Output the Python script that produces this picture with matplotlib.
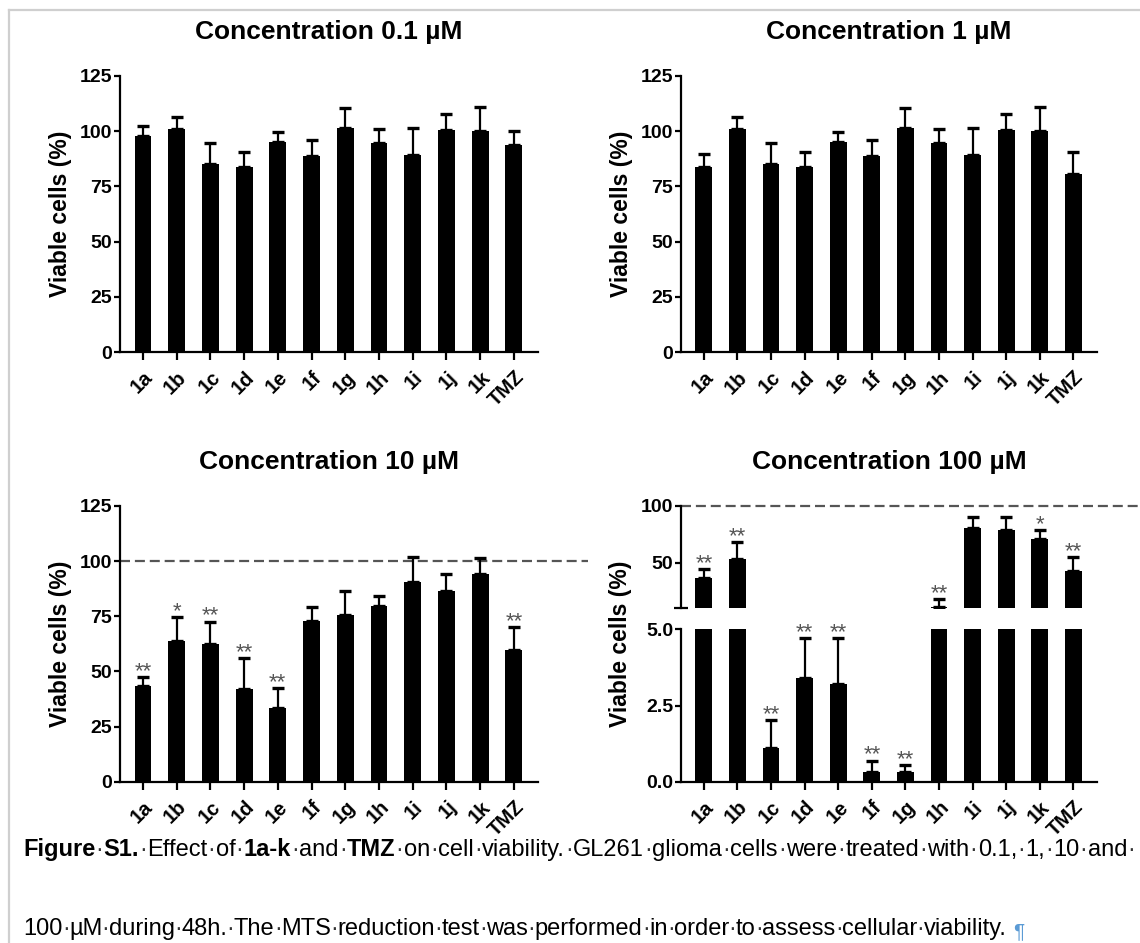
import numpy as np
import matplotlib
matplotlib.use("Agg")
import matplotlib.pyplot as plt
from matplotlib.lines import Line2D
from matplotlib import transforms

plt.rcParams['font.family'] = ['Liberation Sans', 'DejaVu Sans']

labels = ['1a', '1b', '1c', '1d', '1e', '1f', '1g', '1h', '1i', '1j', '1k', 'TMZ']

v01 = [97.8, 100.8, 85.1, 83.9, 94.9, 88.7, 101.6, 94.5, 89.2, 100.5, 100.1, 93.6]
e01 = [4.5, 5.5, 9.7, 6.6, 4.9, 7.3, 8.7, 6.3, 12.4, 7.3, 10.7, 6.6]

v1 = [83.6, 100.8, 85.1, 83.9, 94.9, 88.7, 101.6, 94.5, 89.2, 100.5, 100.1, 80.6]
e1 = [6.3, 5.5, 9.7, 6.6, 4.9, 7.3, 8.7, 6.3, 12.4, 7.3, 10.7, 10.1]

v10 = [43.4, 63.9, 62.4, 41.9, 33.3, 73.0, 75.4, 79.8, 90.7, 86.6, 94.2, 59.7]
e10 = [4.2, 10.9, 10.2, 14.0, 9.0, 6.0, 10.9, 4.5, 11.0, 7.6, 7.4, 10.3]
stars10 = ['**', '*', '**', '**', '**', '', '', '', '', '', '', '**']

v100 = [37.0, 53.5, 1.12, 3.39, 3.2, 0.33, 0.31, 11.2, 80.6, 79.1, 70.6, 42.9]
e100 = [7.4, 14.4, 0.9, 1.31, 1.5, 0.36, 0.24, 6.6, 9.7, 11.2, 8.5, 12.1]
stars100 = ['**', '**', '**', '**', '**', '**', '**', '**', '', '', '*', '**']

titles = ['Concentration 0.1 µM', 'Concentration 1 µM',
          'Concentration 10 µM', 'Concentration 100 µM']

W, H = 1140, 943
TICK_FS = 14
LAB_FS = 16.5
TITLE_FS = 19
STAR_FS = 16
CAP_FS = 17
LW = 1.6
x = np.arange(len(labels))

fig = plt.figure(figsize=(W / 100, H / 100), dpi=100)
fig.patch.set_facecolor('white')


def px_rect(x0, x1, ytop, ybot):
    return [x0 / W, 1 - ybot / H, (x1 - x0) / W, (ybot - ytop) / H]


def style_axes(ax, show_x=True):
    for s in ['top', 'right']:
        ax.spines[s].set_visible(False)
    ax.spines['left'].set_linewidth(LW)
    ax.spines['bottom'].set_linewidth(LW)
    ax.tick_params(axis='y', direction='out', length=4.5, width=LW,
                   labelsize=TICK_FS, pad=1)
    for t in ax.get_yticklabels():
        t.set_fontweight('bold')
    ax.set_xlim(-0.68, len(labels) - 0.3)
    if show_x:
        ax.set_xticks(x)
        ax.set_xticklabels(labels, rotation=45, ha='right', va='center',
                           rotation_mode='anchor', fontsize=TICK_FS + 0.5,
                           fontweight='bold')
        ax.tick_params(axis='x', direction='out', length=6, width=LW, pad=10)
        off = transforms.ScaledTranslation(5 / 72, 0, fig.dpi_scale_trans)
        for t in ax.get_xticklabels():
            t.set_transform(t.get_transform() + off)
    else:
        ax.spines['bottom'].set_visible(False)
        ax.tick_params(axis='x', bottom=False, labelbottom=False)


def draw_bars(ax, vals, errs):
    ax.bar(x, vals, width=0.5, color='black', zorder=2)
    ax.errorbar(x, vals, yerr=[np.zeros(len(vals)), errs], fmt='none',
                ecolor='black', elinewidth=LW, capsize=4, capthick=2.4,
                zorder=3)


def draw_stars(ax, vals, errs, stars, keep=None):
    for i, s in enumerate(stars):
        if not s or (keep is not None and not keep(vals[i])):
            continue
        ax.annotate(s, (x[i], vals[i] + errs[i]), xytext=(0, 0),
                    textcoords='offset points', ha='center', va='baseline',
                    fontsize=STAR_FS, color='#555555')


def dashed_100(ax):
    ax.plot([0, 1.12], [100, 100], color='#555555', lw=1.6,
            dashes=(4.5, 2.2), clip_on=False, zorder=1,
            transform=ax.get_yaxis_transform())


def set_ylabel(ax):
    ax.set_ylabel('Viable cells (%)', fontsize=LAB_FS, fontweight='bold',
                  labelpad=6)


# top row
for (vals, errs), rect, title in zip(
        [(v01, e01), (v1, e1)],
        [px_rect(120, 537.5, 76, 352), px_rect(681, 1097, 76, 352)],
        titles[:2]):
    ax = fig.add_axes(rect)
    draw_bars(ax, vals, errs)
    ax.set_ylim(0, 125)
    ax.set_yticks([0, 25, 50, 75, 100, 125])
    style_axes(ax)
    set_ylabel(ax)
    fig.text(rect[0] + rect[2] / 2, 1 - 32 / H, title, ha='center',
             va='center', fontsize=TITLE_FS, fontweight='bold')

# bottom left: 10 uM
rect = px_rect(120, 537.5, 506, 781.7)
ax = fig.add_axes(rect)
draw_bars(ax, v10, e10)
dashed_100(ax)
draw_stars(ax, v10, e10, stars10)
ax.set_ylim(0, 125)
ax.set_yticks([0, 25, 50, 75, 100, 125])
style_axes(ax)
set_ylabel(ax)
fig.text(rect[0] + rect[2] / 2, 1 - 462 / H, titles[2], ha='center',
         va='center', fontsize=TITLE_FS, fontweight='bold')

# bottom right: 100 uM with split axis
rect_b = px_rect(681, 1097, 629.3, 781.7)
rect_t = px_rect(681, 1097, 506, 608.3)
ax_b = fig.add_axes(rect_b)
ax_t = fig.add_axes(rect_t)
for a in (ax_b, ax_t):
    draw_bars(a, v100, e100)
ax_b.set_ylim(0, 5)
ax_b.set_yticks([0, 2.5, 5])
ax_b.set_yticklabels(['0.0', '2.5', '5.0'])
ax_t.set_ylim(10, 100)
ax_t.set_yticks([50, 100])
ax_t.set_yticks([10], minor=True)
style_axes(ax_b)
style_axes(ax_t, show_x=False)
ax_t.tick_params(axis='y', which='minor', direction='inout', length=10,
                 width=LW)
dashed_100(ax_t)
draw_stars(ax_b, v100, e100, stars100, keep=lambda v: v < 5)
draw_stars(ax_t, v100, e100, stars100, keep=lambda v: v > 10)
fig.text(620 / W, 1 - 644 / H, 'Viable cells (%)', rotation=90,
         ha='center', va='center', fontsize=LAB_FS, fontweight='bold')
fig.text(rect_b[0] + rect_b[2] / 2, 1 - 462 / H, titles[3], ha='center',
         va='center', fontsize=TITLE_FS, fontweight='bold')

# page frame
fig.add_artist(Line2D([9 / W, 9 / W], [0, 1 - 10 / H], transform=fig.transFigure,
                      color='#cfcfcf', lw=1.6))
fig.add_artist(Line2D([9 / W, 1], [1 - 10 / H, 1 - 10 / H],
                      transform=fig.transFigure, color='#cfcfcf', lw=1.6))

# caption
renderer = fig.canvas.get_renderer()
line1 = [('Figure', True), ('S1.', True), ('Effect', False), ('of', False),
         ('1a-k', True), ('and', False), ('TMZ', True), ('on', False),
         ('cell', False), ('viability.', False), ('GL261', False),
         ('glioma', False), ('cells', False), ('were', False),
         ('treated', False), ('with', False), ('0.1,', False), ('1,', False),
         ('10', False), ('and', False)]
line2 = [('100', False), ('µM', False), ('during', False), ('48h.', False),
         ('The', False), ('MTS', False), ('reduction', False), ('test', False),
         ('was', False), ('performed', False), ('in', False), ('order', False),
         ('to', False), ('assess', False), ('cellular', False),
         ('viability.', False)]
space_px = 0.278 * CAP_FS * 100 / 72


def caption_line(words, ybase, x0, x1=None, trail_dot=False, pilcrow=False):
    arts = []
    widths = []
    for w, b in words:
        t = fig.text(0, 1 - ybase / H, w, fontsize=CAP_FS,
                     fontweight='bold' if b else 'normal', va='baseline',
                     ha='left')
        widths.append(t.get_window_extent(renderer).width)
        arts.append(t)
    gap = space_px
    if x1 is not None:
        gap = (x1 - x0 - sum(widths)) / (len(words) - 1)
    pos = x0
    for i, t in enumerate(arts):
        t.set_x(pos / W)
        pos += widths[i]
        if i < len(arts) - 1 or trail_dot:
            fig.text((pos + gap / 2) / W, 1 - ybase / H, '·', fontsize=CAP_FS,
                     ha='center', va='baseline', color='#333333')
        pos += gap
    if pilcrow:
        fig.text(pos / W, 1 - (ybase + 2) / H, '¶', fontsize=CAP_FS - 2,
                 ha='left', va='baseline', color='#5b9bd5')


caption_line(line1, 856, 23, 1127, trail_dot=True)
caption_line(line2, 935, 23, None, pilcrow=True)

fig.savefig('out.png', dpi=100, facecolor='white')
